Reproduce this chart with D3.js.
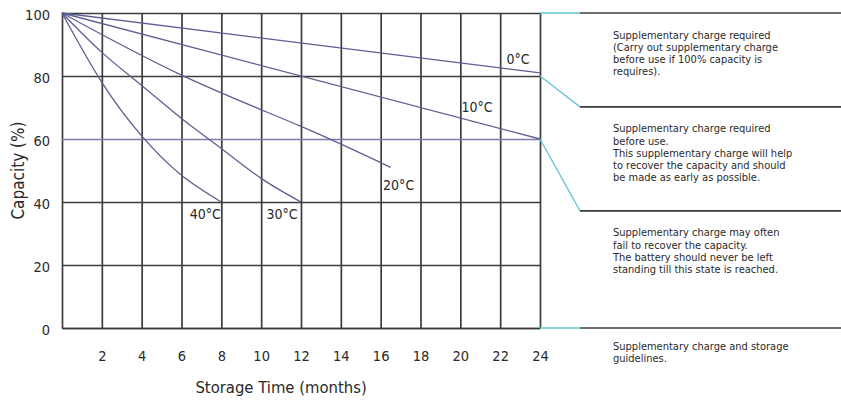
<!DOCTYPE html>
<html>
<head>
<meta charset="utf-8">
<script src="https://cdn.jsdelivr.net/npm/d3@7"></script>
<style>
  body { margin: 0; background: #fff; }
  text { font-family: "DejaVu Sans Condensed", "DejaVu Sans", sans-serif; fill: #2a2a2a; }
</style>
</head>
<body>
<div id="chart"></div>
<script>
// values
var months = [2, 4, 6, 8, 10, 12, 14, 16, 18, 20, 22, 24];
var capacityTicks = [0, 20, 40, 60, 80, 100];

var curve0C  = [[0, 100], [24, 81]];
var curve10C = [[0, 100], [24, 60]];
var curve20C = [[0, 100], [6, 80.3], [12, 64], [16.5, 51]];
var curve30C = [[0, 100], [2, 87.5], [4, 77], [6, 66.5], [8, 57], [10, 47.5], [12, 40]];
var curve40C = [[0, 100], [2, 78], [4, 61], [6, 48.5], [8, 40]];
var curveNames = ["0°C", "10°C", "20°C", "30°C", "40°C"];

// capacity levels where each guideline zone starts
var zoneLevels = [100, 80, 60, 0];
var zoneNotes = [
  ["Supplementary charge required", "(Carry out supplementary charge", "before use if 100% capacity is", "requires)."],
  ["Supplementary charge required", "before use.", "This supplementary charge will help", "to recover the capacity and should", "be made as early as possible."],
  ["Supplementary charge may often", "fail to recover the capacity.", "The battery should never be left", "standing till this state is reached."],
  ["Supplementary charge and storage", "guidelines."]
];

// set the dimensions and margins of the graph
var margin = {top: 13, right: 301, bottom: 75, left: 62},
    width = 841 - margin.left - margin.right,
    height = 403 - margin.top - margin.bottom;

var svg = d3.select("#chart")
  .append("svg")
    .attr("width", 841)
    .attr("height", 403)
  .append("g")
    .attr("transform", "translate(" + margin.left + "," + margin.top + ")");

var x = d3.scaleLinear().domain([0, 24]).range([0, width]);
var y = d3.scaleLinear().domain([0, 100]).range([height, 0]);

var gridColor = "#3c3c3c";
var curveColor = "#5e5e92";
var cyan = "#62c4da";

// x axis with vertical grid lines
var xAxis = svg.append("g")
  .attr("transform", "translate(0," + height + ")")
  .call(d3.axisBottom(x).tickValues(months).tickSize(-height).tickPadding(23).tickSizeOuter(0));
xAxis.select(".domain").attr("stroke", gridColor).attr("stroke-width", 1.7);
xAxis.selectAll(".tick line").attr("stroke", gridColor).attr("stroke-width", 1.7);
xAxis.selectAll("text").style("font-size", "14.5px").attr("fill", "#2a2a2a");

// y axis with horizontal grid lines
var yAxis = svg.append("g")
  .call(d3.axisLeft(y).tickValues(capacityTicks).tickSize(-width).tickPadding(12).tickSizeOuter(0));
yAxis.select(".domain").attr("stroke", gridColor).attr("stroke-width", 1.7);
yAxis.selectAll(".tick line")
  .attr("stroke", function(d) { return d == 60 ? "#7e7eae" : gridColor; })
  .attr("stroke-width", 1.7);
yAxis.selectAll("text").style("font-size", "14.5px").attr("fill", "#2a2a2a").attr("dy", "0.42em");

// axis titles
svg.append("text")
  .attr("x", x(11))
  .attr("y", height + 65)
  .attr("text-anchor", "middle")
  .style("font-size", "16.5px")
  .text("Storage Time (months)");

svg.append("text")
  .attr("transform", "translate(" + (-38) + "," + y(50) + ") rotate(-90)")
  .attr("text-anchor", "middle")
  .style("font-size", "17px")
  .text("Capacity (%)");

// self discharge curves
var line = d3.line()
  .x(function(d) { return x(d[0]); })
  .y(function(d) { return y(d[1]); })
  .curve(d3.curveNatural);

var curves = [curve0C, curve10C, curve20C, curve30C, curve40C];
svg.selectAll(".curve")
  .data(curves)
  .enter()
  .append("path")
    .attr("class", "curve")
    .attr("d", line)
    .attr("fill", "none")
    .attr("stroke", curveColor)
    .attr("stroke-width", 1.3);

// labels sit near the end of each curve
var labelOffsets = [[-22, -9], [-63, -27], [8, 23], [-19, 17], [-16, 17]];
svg.selectAll(".curve-label")
  .data(curves)
  .enter()
  .append("text")
    .attr("class", "curve-label")
    .attr("x", function(d, i) { var p = d[d.length - 1]; return x(p[0]) + labelOffsets[i][0]; })
    .attr("y", function(d, i) { var p = d[d.length - 1]; return y(p[1]) + labelOffsets[i][1]; })
    .attr("text-anchor", "middle")
    .style("font-size", "14px")
    .text(function(d, i) { return curveNames[i]; });

// guideline panel on the right
var panelX = width + 40;
var panelY = d3.scaleLinear().domain([0, 1]).range([0, height]);
var panelRows = [0, 0.298, 0.628, 1].map(panelY);

svg.selectAll(".connector")
  .data(zoneLevels)
  .enter()
  .append("line")
    .attr("class", "connector")
    .attr("x1", width)
    .attr("y1", function(d) { return y(d); })
    .attr("x2", panelX)
    .attr("y2", function(d, i) { return panelRows[i]; })
    .attr("stroke", cyan)
    .attr("stroke-width", 1.3);

svg.selectAll(".panel-line")
  .data(panelRows)
  .enter()
  .append("line")
    .attr("class", "panel-line")
    .attr("x1", panelX)
    .attr("x2", 841 - margin.left)
    .attr("y1", function(d) { return d; })
    .attr("y2", function(d) { return d; })
    .attr("stroke", gridColor)
    .attr("stroke-width", 1.7);

var notes = svg.selectAll(".note")
  .data(zoneNotes)
  .enter()
  .append("text")
    .attr("class", "note")
    .attr("x", panelX + 33)
    .attr("y", function(d, i) { return panelRows[i] + (i == 3 ? 22 : 25.5); })
    .style("font-size", "11px")
    .attr("fill", "#222");

notes.selectAll("tspan")
  .data(function(d) { return d; })
  .enter()
  .append("tspan")
    .attr("x", panelX + 33)
    .attr("dy", function(d, i) { return i == 0 ? 0 : 12.2; })
    .text(function(d) { return d; });
</script>
</body>
</html>
